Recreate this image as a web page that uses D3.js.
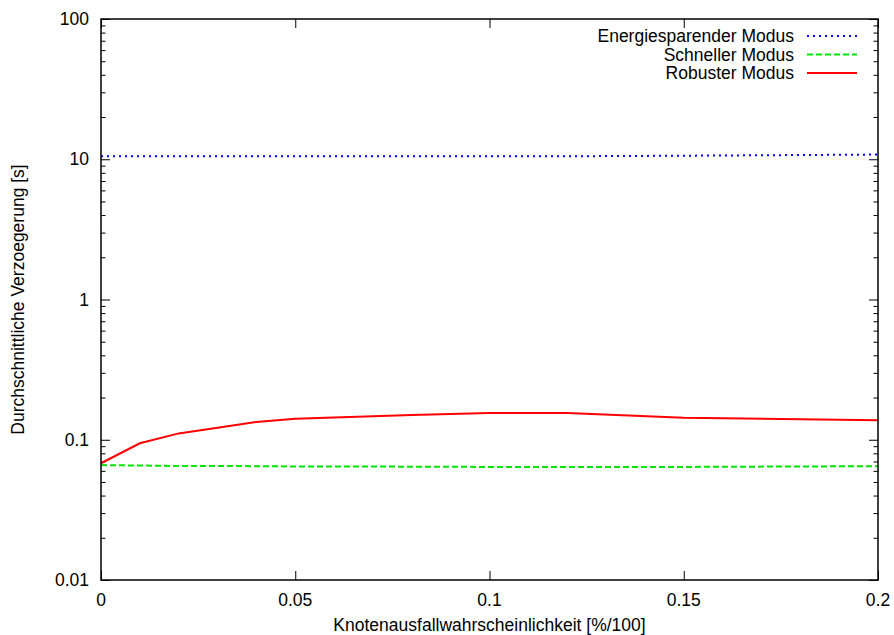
<!DOCTYPE html>
<html><head><meta charset="utf-8">
<script src="https://cdn.jsdelivr.net/npm/d3@7"></script>
<style>body{margin:0;background:#fff}svg{display:block}text{font-family:"Liberation Sans",Arial,sans-serif;fill:#000}</style>
</head><body><svg id="c" width="894" height="635"></svg>
<script>
const xValues = [0, 0.01, 0.02, 0.03, 0.04, 0.05, 0.08, 0.1, 0.12, 0.15, 0.2];
const energieValues = [10.5, 10.5, 10.5, 10.5, 10.5, 10.5, 10.5, 10.5, 10.5, 10.6, 10.8];
const schnellValues = [0.066, 0.0655, 0.065, 0.065, 0.0648, 0.0645, 0.0643, 0.064, 0.064, 0.064, 0.0648];
const robustValues = [0.068, 0.0944, 0.111, 0.122, 0.134, 0.141, 0.150, 0.155, 0.155, 0.1436, 0.1376];
const seriesNames = ["Energiesparender Modus", "Schneller Modus", "Robuster Modus"];
const xTicks = [0, 0.05, 0.1, 0.15, 0.2];
const xTickLabels = ["0", "0.05", "0.1", "0.15", "0.2"];
const yTicks = [0.01, 0.1, 1, 10, 100];
const yTickLabels = ["0.01", "0.1", "1", "10", "100"];
const xTitle = "Knotenausfallwahrscheinlichkeit [%/100]";
const yTitle = "Durchschnittliche Verzoegerung [s]";

const L = 101, R = 878, T = 19, B = 580;
const svg = d3.select("#c");
const x = d3.scaleLinear().domain([0, 0.2]).range([L, R]);
const y = d3.scaleLog().domain([0.01, 100]).range([B, T]);
const fs = 17.5;

const minors = [];
for (let e = -2; e < 2; e++) for (let k = 2; k <= 9; k++) minors.push(k * Math.pow(10, e));

const g = svg.append("g");
g.append("g").attr("transform", `translate(${L},0)`).call(d3.axisRight(y).tickValues(yTicks).tickSize(9).tickFormat(""));
g.append("g").attr("transform", `translate(${L},0)`).call(d3.axisRight(y).tickValues(minors).tickSize(4.5).tickFormat(""));
g.append("g").attr("transform", `translate(${R},0)`).call(d3.axisLeft(y).tickValues(yTicks).tickSize(9).tickFormat(""));
g.append("g").attr("transform", `translate(${R},0)`).call(d3.axisLeft(y).tickValues(minors).tickSize(4.5).tickFormat(""));
g.append("g").attr("transform", `translate(0,${B})`).call(d3.axisTop(x).tickValues(xTicks).tickSize(9).tickFormat(""));
g.append("g").attr("transform", `translate(0,${T})`).call(d3.axisBottom(x).tickValues(xTicks).tickSize(9).tickFormat(""));
g.selectAll(".domain").remove();
g.selectAll(".tick line").attr("stroke", "#000").attr("stroke-width", 1);

svg.append("g").selectAll("text").data(yTicks).join("text")
  .attr("x", L - 12).attr("y", d => y(d)).attr("dy", "0.35em")
  .attr("text-anchor", "end").attr("font-size", fs).text((d, i) => yTickLabels[i]);
svg.append("g").selectAll("text").data(xTicks).join("text")
  .attr("x", d => x(d)).attr("y", B + 26)
  .attr("text-anchor", "middle").attr("font-size", fs).text((d, i) => xTickLabels[i]);

svg.append("text").attr("x", (L + R) / 2).attr("y", 631).attr("text-anchor", "middle").attr("font-size", fs).text(xTitle);
svg.append("text").attr("transform", `translate(24,${(T + B) / 2}) rotate(-90)`).attr("text-anchor", "middle").attr("font-size", fs).text(yTitle);

const series = [
  {vals: energieValues, color: "#0000ff", dash: "2,4", w: 2},
  {vals: schnellValues, color: "#00e600", dash: "6,3", w: 2},
  {vals: robustValues, color: "#ff0000", dash: null, w: 2}
];
const line = d3.line().x(d => x(d[0])).y(d => y(d[1]));
series.forEach(s => {
  svg.append("path").datum(xValues.map((xv, i) => [xv, s.vals[i]]))
    .attr("d", line).attr("fill", "none").attr("stroke", s.color)
    .attr("stroke-width", s.w).attr("stroke-dasharray", s.dash);
});

svg.append("rect").attr("x", L).attr("y", T).attr("width", R - L).attr("height", B - T)
  .attr("fill", "none").attr("stroke", "#000").attr("stroke-width", 1.5);

const lg = svg.append("g");
series.forEach((s, i) => {
  const yy = 36 + i * 18.5;
  lg.append("text").attr("x", 794).attr("y", yy).attr("dy", "0.35em")
    .attr("text-anchor", "end").attr("font-size", fs).text(seriesNames[i]);
  lg.append("line").attr("x1", 807).attr("x2", 857).attr("y1", yy).attr("y2", yy)
    .attr("stroke", s.color).attr("stroke-width", s.w).attr("stroke-dasharray", s.dash);
});
</script></body></html>
